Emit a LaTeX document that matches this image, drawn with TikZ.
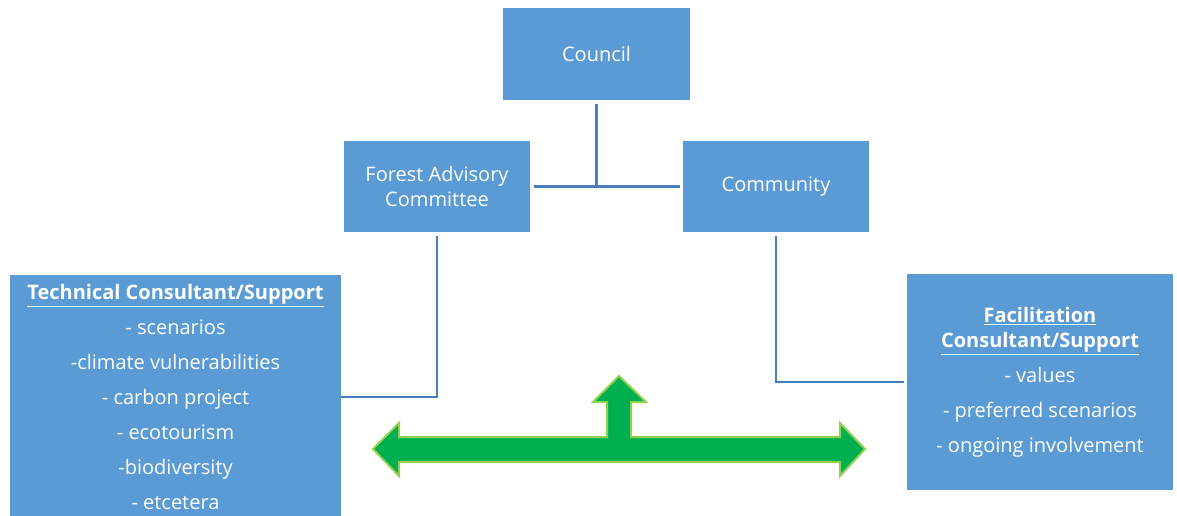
\documentclass[tikz,border=0pt]{standalone}
\usepackage{fontspec}
\setmainfont{Open Sans}
\definecolor{boxblue}{HTML}{5B9BD5}
\definecolor{lineblue}{HTML}{4A7EBB}
\definecolor{arrowgreen}{HTML}{00B050}
\definecolor{arrowedge}{HTML}{92D050}
\begin{document}
\begin{tikzpicture}[x=0.75pt, y=-0.75pt,
box_style/.style={rectangle,fill=boxblue,text=white,align=center,inner sep=2pt,
  font=\fontsize{15}{18.75}\selectfont},
line_style/.style={draw=lineblue,line width=1.8pt},
arrow_style/.style={fill=arrowgreen,draw=arrowedge,line width=1.5pt,line join=miter}]
\useasboundingbox (0,0) rectangle (1177,516);
\clip (0,0) rectangle (1177,516);

\node[box_style,minimum width=140.25pt,minimum height=69pt] (council) at (596.5,54) {Council};
\node[box_style,minimum width=139.5pt,minimum height=68.25pt] (fac) at (437,186.5) {Forest Advisory\\Committee};
\node[box_style,minimum width=139.5pt,minimum height=68.25pt] (community) at (776,186.5) {Community};
\node[box_style,minimum width=248.25pt,minimum height=183pt] (tech) at (175.5,397)
  {\textbf{\underline{Technical Consultant/Support}}\\[7.5pt]
   - scenarios\\[7.5pt] -climate vulnerabilities\\[7.5pt] - carbon project\\[7.5pt]
   - ecotourism\\[7.5pt] -biodiversity\\[7.5pt] - etcetera};
\node[box_style,minimum width=199.5pt,minimum height=162pt] (facil) at (1040,382)
  {\textbf{\underline{Facilitation}}\\\textbf{\underline{Consultant/Support}}\\[7.5pt]
   - values\\[7.5pt] - preferred scenarios\\[7.5pt] - ongoing involvement};

\coordinate (hub) at (596.5,186);
\draw[line_style,shorten <=3pt] (council) -- (hub);
\draw[line_style,shorten <=3pt,shorten >=2pt] (fac.east) -- (community.west);
\draw[line_style,shorten <=3pt] (fac.south) |- (tech.east);
\draw[line_style,shorten <=3pt,shorten >=2pt] (community.south) |- (facil.west);

% three-way green arrow
\draw[arrow_style] (373,449) -- (399,423) -- (399,437) -- (607,437) -- (607,402)
  -- (593,402) -- (619,376) -- (646,402) -- (631,402) -- (631,437) -- (840,437)
  -- (840,423) -- (865,449) -- (840,476) -- (840,462) -- (399,462) -- (399,476) -- cycle;
\end{tikzpicture}
\end{document}
